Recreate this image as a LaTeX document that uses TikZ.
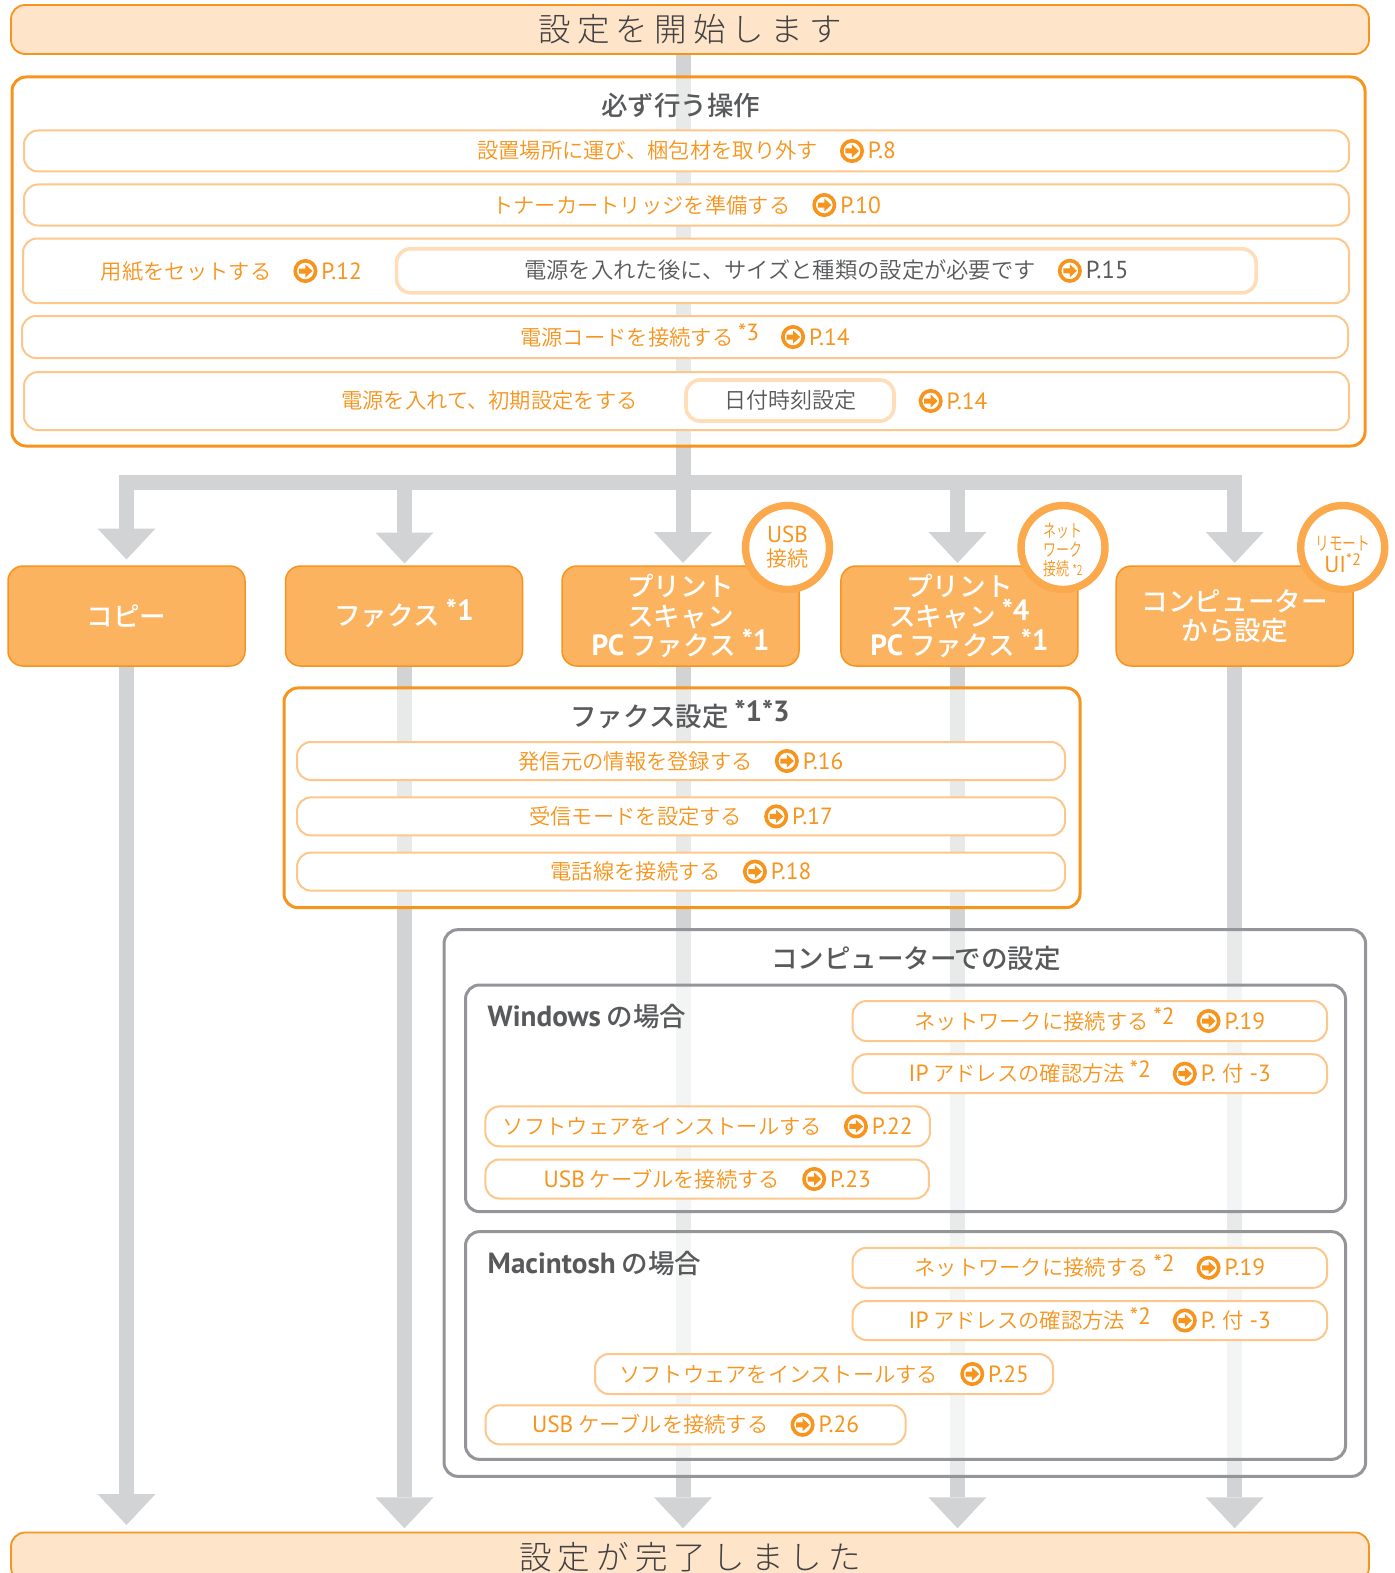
\documentclass[tikz,border=0pt]{standalone}
\usepackage{fontspec}
\setmainfont{PT Sans}
\newfontfamily\jp[BoldFont={Noto Sans CJK JP Medium}]{Noto Sans CJK JP DemiLight}
\newfontfamily\jpwide[LetterSpace=19]{Noto Sans CJK JP Light}
\newfontfamily\jpthin[FakeStretch=0.72]{Noto Sans CJK JP DemiLight}
\newfontfamily\la[Scale=1.1]{PT Sans}
\usetikzlibrary{arrows.meta,backgrounds,shapes.geometric}
\definecolor{flowgray}{HTML}{D1D3D4}
\definecolor{rimgray}{HTML}{939598}
\definecolor{inkgray}{HTML}{58595B}
\definecolor{capink}{HTML}{414042}
\definecolor{mainorange}{HTML}{F7941D}
\definecolor{pillrim}{HTML}{FDC78B}
\definecolor{softrim}{HTML}{FEDDB8}
\definecolor{capfill}{HTML}{FEE4C8}
\definecolor{headfill}{HTML}{FBB360}
\definecolor{ringcol}{HTML}{FBA94C}
\newcommand{\gopage}{\tikz[baseline={(0pt,-8pt)}]{\draw[mainorange,line width=3.6pt,sharp corners] (0pt,0pt) circle (10.2pt);\fill[mainorange,sharp corners] (-6.5pt,-2.5pt) -- (0pt,-2.5pt) -- (0pt,-6.5pt) -- (7pt,0pt) -- (0pt,6.5pt) -- (0pt,2.5pt) -- (-6.5pt,2.5pt) -- cycle;}}
\newcommand{\topage}[1]{\hspace{22pt}\gopage\hspace{4pt}{\la P.#1}}
\newcommand{\nt}[1]{\smash{\raisebox{.2em}{\la #1}}}
\begin{document}
\begin{tikzpicture}[x=1pt,y=-1pt,
  cap node/.style={draw=mainorange,line width=1.8pt,fill=capfill,rounded corners=14pt,inner sep=0pt,text=capink,minimum height=49pt,minimum width=1358pt,font=\jpwide\fontsize{32.5}{36}\selectfont},
  panel node/.style={draw=#1,line width=3pt,fill=white,fill opacity=.5,rounded corners=14pt,inner sep=0pt},
  pill node/.style={draw=pillrim,line width=2pt,fill=white,rounded corners=14pt,inner sep=0pt,text=mainorange,font=\jp\fontsize{21.3}{25}\selectfont},
  soft node/.style={draw=softrim,line width=3.6pt,fill=white,rounded corners=14pt,inner sep=0pt,text=inkgray,font=\jp\fontsize{22}{25}\selectfont},
  title node/.style={text=inkgray,inner sep=0pt,font=\jp\bfseries\fontsize{26.5}{30}\selectfont},
  plain node/.style={text=mainorange,inner sep=0pt,font=\jp\fontsize{21.3}{25}\selectfont},
  head node/.style={draw=mainorange,line width=1.5pt,fill=headfill,rounded corners=15pt,inner sep=0pt,minimum width=237pt,minimum height=100pt,text=white,align=center,font=\jp\bfseries\fontsize{26.6}{29.5}\selectfont},
  ring node/.style={circle,draw=ringcol,line width=7.4pt,fill=white,inner sep=0pt,minimum size=84pt,text=mainorange,align=center},
  flow/.style={draw=flowgray,line width=15pt,-{Triangle[width=58pt,length=31pt,line width=0pt]}}]
\useasboundingbox (0,0) rectangle (1394,1573);
\coordinate (junction) at (683,482.5);
\coordinate (copy top) at (126.5,559.5);
\coordinate (fax top) at (404.5,563.5);
\coordinate (print top) at (683,563);
\coordinate (scan top) at (957.5,563);
\coordinate (comp top) at (1234.7,563);
\coordinate (copy end) at (126.5,1525);
\coordinate (fax end) at (404.5,1528.3);
\coordinate (print end) at (683,1528.3);
\coordinate (scan end) at (957.5,1528.3);
\coordinate (comp end) at (1234.7,1528.3);
\node[cap node] (start) at (690,29.5) {設定を開始します};
\node[cap node] (finish) at (690,1557) {設定が完了しました};
\node[panel node=mainorange,minimum width=1353pt,minimum height=369pt] (must) at (688.5,261.5) {};
\node[title node] (must title) at (680.5,105.5) {必ず行う操作};
\node[pill node,minimum width=1325pt,minimum height=41pt] (place) at (686.5,151) {設置場所に運び、梱包材を取り外す\topage{8}};
\node[pill node,minimum width=1325pt,minimum height=41pt] (toner) at (686.5,205) {トナーカートリッジを準備する\topage{10}};
\node[pill node,minimum width=1326pt,minimum height=64.5pt] (paper) at (686,270.8) {};
\node[plain node] (paper text) at (231.5,271) {用紙をセットする\topage{12}};
\node[soft node,font=\jp\fontsize{22.3}{25}\selectfont,minimum width=859.5pt,minimum height=44pt] (paper size) at (826.3,270.8) {電源を入れた後に、サイズと種類の設定が必要です\topage{15}};
\node[pill node,minimum width=1326pt,minimum height=42pt] (cord) at (685,337) {電源コードを接続する {\nt{*3}}\topage{14}};
\node[pill node,minimum width=1325pt,minimum height=58pt] (power) at (686.5,401) {};
\node[plain node] (power text) at (489.5,400.5) {電源を入れて、初期設定をする};
\node[soft node,minimum width=208pt,minimum height=41pt] (date) at (790,400.5) {日付時刻設定};
\node[plain node] (power page) at (953,401) {\gopage\hspace{4pt}{\la P.14}};
\node[head node] (copy) at (126.5,616) {コピー};
\node[head node] (fax) at (404,616) {ファクス {\nt{*1}}};
\node[head node] (print) at (680.5,616) {プリント\\スキャン\\{\la PC} ファクス {\nt{*1}}};
\node[head node] (scan) at (959.4,616) {プリント\\スキャン {\nt{*4}}\\{\la PC} ファクス {\nt{*1}}};
\node[head node] (comp) at (1234.7,616) {コンピューター\\から設定};
\node[ring node,font=\jp\fontsize{21}{24}\selectfont] (usb) at (787.5,547.5) {{\la USB}\\接続};
\node[ring node,font=\jpthin\fontsize{18}{19}\selectfont] (net) at (1063,547.5) {\rule{0pt}{20pt}ネット\\ワーク\\接続 {\fontsize{14}{14}\selectfont *2}};
\node[ring node,font=\jpthin\fontsize{19}{22}\selectfont] (remote) at (1342.7,547.5) {\rule{0pt}{28pt}リモート\\{\la\fontsize{21}{22}\selectfont UI\raisebox{.3em}{\fontsize{15}{15}\selectfont *2}}};
\node[panel node=mainorange,minimum width=796pt,minimum height=219.7pt] (faxset) at (682,797.8) {};
\node[title node] (faxset title) at (680,717) {ファクス設定 {\nt{*1*3}}};
\node[pill node,minimum width=768pt,minimum height=38pt] (sender) at (681,761) {発信元の情報を登録する\topage{16}};
\node[pill node,minimum width=768pt,minimum height=38pt] (mode) at (681,816.4) {受信モードを設定する\topage{17}};
\node[pill node,minimum width=768pt,minimum height=38pt] (line) at (681,871.6) {電話線を接続する\topage{18}};
\node[panel node=rimgray,minimum width=921.6pt,minimum height=546.7pt] (pc) at (904.8,1203) {};
\node[title node] (pc title) at (916,959) {コンピューターでの設定};
\node[panel node=rimgray,minimum width=880pt,minimum height=226.6pt] (win) at (905.5,1098.3) {};
\node[title node,anchor=west] (win title) at (487.5,1016) {{\la Windows} の場合};
\node[pill node,minimum width=474.5pt,minimum height=40pt] (win net) at (1089.8,1021) {ネットワークに接続する {\nt{*2}}\topage{19}};
\node[pill node,minimum width=474.5pt,minimum height=39pt] (win ip) at (1089.8,1073.7) {{\la IP} アドレスの確認方法 {\nt{*2}}\topage{ {\jp 付} -3}};
\node[pill node,minimum width=444.5pt,minimum height=40pt] (win soft) at (707.7,1126.4) {ソフトウェアをインストールする\topage{22}};
\node[pill node,minimum width=443.5pt,minimum height=39pt] (win usb) at (707.2,1179) {{\la USB} ケーブルを接続する\topage{23}};
\node[panel node=rimgray,minimum width=880pt,minimum height=227.7pt] (mac) at (905.5,1345.5) {};
\node[title node,anchor=west] (mac title) at (487.5,1263) {{\la Macintosh} の場合};
\node[pill node,minimum width=474.5pt,minimum height=40pt] (mac net) at (1089.8,1267.8) {ネットワークに接続する {\nt{*2}}\topage{19}};
\node[pill node,minimum width=474.5pt,minimum height=39pt] (mac ip) at (1089.8,1320.5) {{\la IP} アドレスの確認方法 {\nt{*2}}\topage{ {\jp 付} -3}};
\node[pill node,minimum width=458pt,minimum height=40pt] (mac soft) at (824,1374) {ソフトウェアをインストールする\topage{25}};
\node[pill node,minimum width=420pt,minimum height=39pt] (mac usb) at (695.6,1424.8) {{\la USB} ケーブルを接続する\topage{26}};
\begin{scope}[on background layer]
\draw[flow] (junction) -| (copy top);
\draw[flow] (junction) -| (fax top);
\draw[flow] (start.south -| print top) -- (print top);
\draw[flow] (junction) -| (scan top);
\draw[flow] (junction) -| (comp top);
\draw[flow] (copy.south -| copy end) -- (copy end);
\draw[flow] (fax.south -| fax end) -- (fax end);
\draw[flow] (print.south -| print end) -- (print end);
\draw[flow] (scan.south -| scan end) -- (scan end);
\draw[flow] (comp.south -| comp end) -- (comp end);
\end{scope}
\end{tikzpicture}
\end{document}
